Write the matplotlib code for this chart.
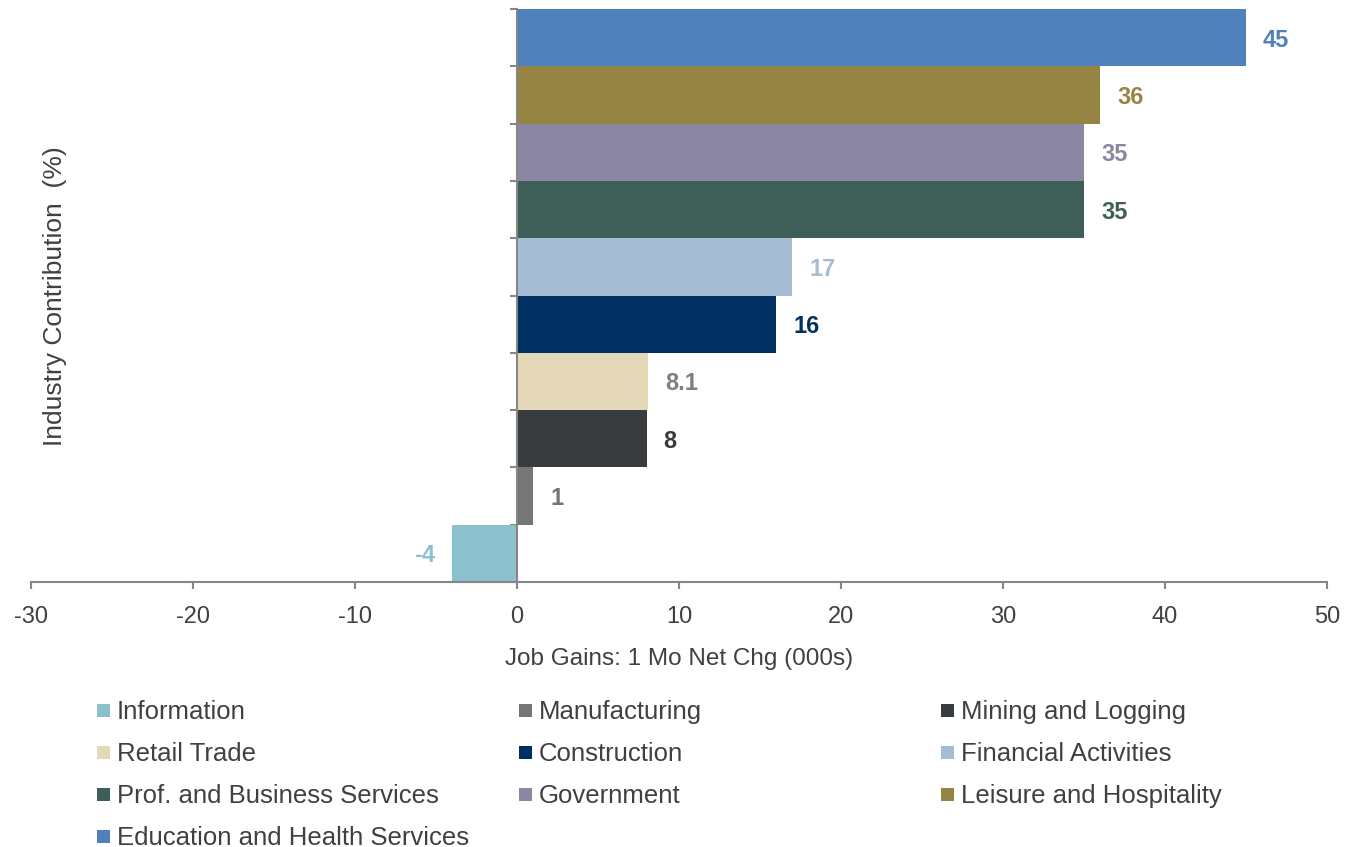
import matplotlib
matplotlib.use("Agg")
import matplotlib.pyplot as plt
import matplotlib.patches as mpatches

# data, bottom row first
industries = ["Information", "Manufacturing", "Mining and Logging", "Retail Trade",
              "Construction", "Financial Activities", "Prof. and Business Services",
              "Government", "Leisure and Hospitality", "Education and Health Services"]
values = [-4, 1, 8, 8.1, 16, 17, 35, 35, 36, 45]
value_text = ["-4", "1", "8", "8.1", "16", "17", "35", "35", "36", "45"]
colors = ["#8bc1cd", "#767676", "#393c3f", "#e4d8b8", "#002f61",
          "#a6bcd4", "#3e5e58", "#8b87a3", "#968442", "#4f81bd"]
label_colors = ["#8bc1cd", "#767676", "#393c3f", "#7f7f7f", "#002f61",
                "#a6bcd4", "#3e5e58", "#8b87a3", "#968442", "#4f81bd"]
legend_order = ["Information", "Manufacturing", "Mining and Logging",
                "Retail Trade", "Construction", "Financial Activities",
                "Prof. and Business Services", "Government", "Leisure and Hospitality",
                "Education and Health Services"]
x_ticks = [-30, -20, -10, 0, 10, 20, 30, 40, 50]

FONT = ["Liberation Sans", "DejaVu Sans"]
AX_COL = "#868686"
TXT_COL = "#404040"

fig = plt.figure(figsize=(13.46, 8.47), dpi=100)
ax = fig.add_axes([31/1346, 1-582/847, (1327-31)/1346, (582-9)/847])

ypos = list(range(len(values)))
ax.barh(ypos, values, height=1.0, color=colors, edgecolor="none", zorder=2)

ax.set_xlim(-30, 50)
ax.set_ylim(-0.5, len(values) - 0.5)

# spines
for s in ("top", "right"):
    ax.spines[s].set_visible(False)
ax.spines["left"].set_position(("data", 0))
for s in ("left", "bottom"):
    ax.spines[s].set_color(AX_COL)
    ax.spines[s].set_linewidth(1.5)
ax.spines["left"].set_zorder(3)

ax.set_yticks([i - 0.5 for i in range(len(values) + 1)])
ax.set_yticklabels([])
ax.tick_params(axis="y", direction="out", length=5, width=1.5, color=AX_COL)
ax.set_xticks(x_ticks)
ax.set_xticklabels([str(t) for t in x_ticks])
ax.tick_params(axis="x", direction="out", length=5, width=1.5, color=AX_COL,
               labelcolor=TXT_COL, pad=12)
for lbl in ax.get_xticklabels():
    lbl.set_family(FONT)
    lbl.set_fontsize(17)

ax.set_xlabel("Job Gains: 1 Mo Net Chg (000s)", family=FONT, fontsize=17.5,
              color=TXT_COL, labelpad=15)
fig.text(55/1346, 1-296/847, "Industry Contribution  (%)", rotation=90,
         ha="center", va="center", family=FONT, fontsize=19, color=TXT_COL)

# value labels
off = 1.05
for y, v, t, c in zip(ypos, values, value_text, label_colors):
    if v >= 0:
        ax.text(v + off, y, t, ha="left", va="center_baseline", fontsize=17,
                fontweight="bold", color=c, family=FONT)
    else:
        ax.text(v - off, y, t, ha="right", va="center_baseline", fontsize=17,
                fontweight="bold", color=c, family=FONT)

# legend, three columns row-wise
col_x = [97, 519, 941]
row_y = [710, 752, 794, 836]
cmap = dict(zip(industries, colors))
for k, name in enumerate(legend_order):
    cx = col_x[k % 3]
    cy = row_y[k // 3]
    sq = 13
    fig.add_artist(mpatches.Rectangle((cx/1346, 1-(cy+sq/2)/847), sq/1346, sq/847,
                                      facecolor=cmap[name], edgecolor="none",
                                      transform=fig.transFigure))
    fig.text((cx+20)/1346, 1-(cy+2)/847, name, ha="left", va="center",
             fontsize=18.5, color=TXT_COL, family=FONT)

fig.savefig("out.png", dpi=100, facecolor="white")
